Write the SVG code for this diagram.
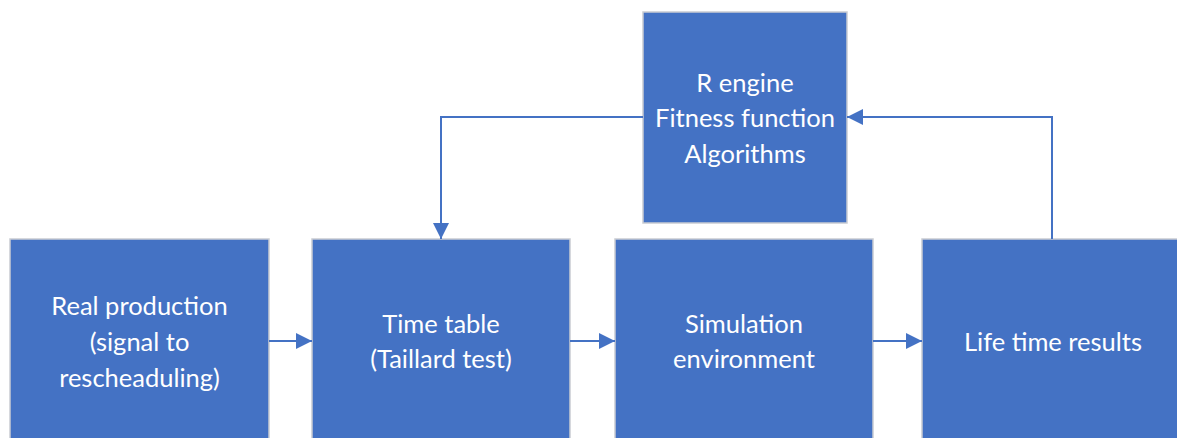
<svg xmlns="http://www.w3.org/2000/svg" width="1177" height="438" viewBox="0 0 1177 438">
  <style>
    .box { fill: #4472C4; stroke: #C9CCD2; stroke-width: 1.5; }
    .lbl { fill: #FFFFFF; font-family: Lato, "Open Sans", "Liberation Sans", sans-serif; font-size: 25.5px; text-anchor: middle; dominant-baseline: central; }
    .conn { fill: none; stroke: #4472C4; stroke-width: 2; }
  </style>
  <defs>
    <marker id="arrow" viewBox="0 0 10 10" refX="10" refY="5" markerUnits="userSpaceOnUse" markerWidth="16" markerHeight="16" orient="auto">
      <path d="M0,0 L10,5 L0,10 Z" fill="#4472C4"/>
    </marker>
  </defs>
  <rect width="1177" height="438" fill="#FFFFFF"/>

  <g id="node-engine">
    <rect class="box" x="643" y="12" width="204" height="211"/>
    <text class="lbl" x="745" y="82">R engine</text>
    <text class="lbl" x="745" y="117">Fitness function</text>
    <text class="lbl" x="745" y="153">Algorithms</text>
  </g>

  <g id="node-production">
    <rect class="box" x="10" y="239" width="259" height="210"/>
    <text class="lbl" x="139.5" y="305">Real production</text>
    <text class="lbl" x="139.5" y="341">(signal to</text>
    <text class="lbl" x="139.5" y="377">rescheaduling)</text>
  </g>

  <g id="node-timetable">
    <rect class="box" x="312" y="239" width="258" height="210"/>
    <text class="lbl" x="441" y="323">Time table</text>
    <text class="lbl" x="441" y="358">(Taillard test)</text>
  </g>

  <g id="node-simulation">
    <rect class="box" x="615" y="239" width="258" height="210"/>
    <text class="lbl" x="744" y="323">Simulation</text>
    <text class="lbl" x="744" y="358">environment</text>
  </g>

  <g id="node-results">
    <rect class="box" x="922" y="239" width="262" height="210"/>
    <text class="lbl" x="1053" y="341">Life time results</text>
  </g>

  <g id="connectors">
    <line class="conn" x1="269" y1="341" x2="312" y2="341" marker-end="url(#arrow)"/>
    <line class="conn" x1="570" y1="341" x2="615" y2="341" marker-end="url(#arrow)"/>
    <line class="conn" x1="873" y1="341" x2="922" y2="341" marker-end="url(#arrow)"/>
    <polyline class="conn" points="1052,239 1052,117 847,117" marker-end="url(#arrow)"/>
    <polyline class="conn" points="643,117 441,117 441,239" marker-end="url(#arrow)"/>
  </g>
</svg>
